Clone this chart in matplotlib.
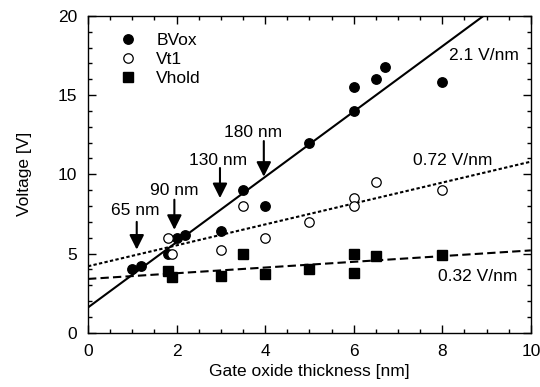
import matplotlib
matplotlib.use("Agg")
import matplotlib.pyplot as plt
import numpy as np
from matplotlib.ticker import MultipleLocator

plt.rcParams['font.family'] = ['Liberation Sans', 'DejaVu Sans']
FS = 12.5

# Data
bvox_x = [1.0, 1.2, 1.8, 2.0, 2.2, 3.0, 3.5, 4.0, 5.0, 6.0, 6.0, 6.5, 6.7, 8.0]
bvox_y = [4.0, 4.2, 5.0, 6.0, 6.2, 6.4, 9.0, 8.0, 12.0, 14.0, 15.5, 16.0, 16.8, 15.8]
vt1_x = [1.8, 1.9, 3.0, 3.5, 4.0, 5.0, 6.0, 6.0, 6.5, 8.0]
vt1_y = [6.0, 5.0, 5.2, 8.0, 6.0, 7.0, 8.5, 8.0, 9.5, 9.0]
vhold_x = [1.8, 1.9, 3.0, 3.5, 4.0, 5.0, 6.0, 6.0, 6.5, 8.0]
vhold_y = [3.9, 3.5, 3.6, 5.0, 3.7, 4.05, 5.0, 3.8, 4.87, 4.9]

# Fit lines (intercept, slope)
fit_intercepts = [1.6, 4.2, 3.4]
fit_slopes = [2.06, 0.66, 0.18]
fit_labels = ["2.1 V/nm", "0.72 V/nm", "0.32 V/nm"]
fit_label_pos = [(8.15, 17.5), (7.35, 10.9), (7.9, 3.55)]

# Node annotations
node_labels = ["65 nm", "90 nm", "130 nm", "180 nm"]
node_x = [1.1, 1.95, 2.98, 3.97]
node_tip_y = [5.25, 6.5, 8.5, 9.85]
node_tail_y = [7.0, 8.4, 10.4, 12.1]
node_text_xy = [(1.06, 7.7), (1.94, 8.95), (2.94, 10.85), (3.73, 12.65)]

fig = plt.figure(figsize=(5.4, 3.87), dpi=100)
ax = fig.add_axes([0.163, 0.140, 0.820, 0.819])

xs = np.array([0, 10])
styles = ['-', (0, (1.6, 1.1)), (0, (4, 2))]
for b, m, ls in zip(fit_intercepts, fit_slopes, styles):
    ax.plot(xs, b + m * xs, color='black', lw=1.5, linestyle=ls, zorder=2)

ax.plot(bvox_x, bvox_y, 'o', color='black', ms=6.8, label='BVox', zorder=3)
ax.plot(vt1_x, vt1_y, 'o', mfc='white', mec='black', mew=0.9, ms=6.8, label='Vt1', zorder=3)
ax.plot(vhold_x, vhold_y, 's', color='black', ms=6.5, label='Vhold', zorder=3)

for (tx, ty), lab in zip(fit_label_pos, fit_labels):
    ax.text(tx, ty, lab, fontsize=FS, ha='left', va='center')

for lab, x, ty, tl, (lx, ly) in zip(node_labels, node_x, node_tip_y, node_tail_y, node_text_xy):
    ax.annotate('', xy=(x, ty), xytext=(x, tl),
                arrowprops=dict(arrowstyle='-|>,head_length=0.4,head_width=0.2',
                                color='black', lw=1.5,
                                mutation_scale=22, shrinkA=0, shrinkB=0))
    ax.text(lx, ly, lab, fontsize=FS, ha='center', va='center')

ax.set_xlim(0, 10)
ax.set_ylim(0, 20)
ax.xaxis.set_major_locator(MultipleLocator(2))
ax.xaxis.set_minor_locator(MultipleLocator(0.5))
ax.yaxis.set_major_locator(MultipleLocator(5))
ax.yaxis.set_minor_locator(MultipleLocator(1))
ax.tick_params(which='both', direction='in', top=True, right=True, labelsize=FS, width=1)
ax.tick_params(which='major', length=6)
ax.tick_params(which='minor', length=3)
ax.tick_params(axis='y', which='major', pad=8)
ax.tick_params(axis='x', which='major', pad=8)
for s in ax.spines.values():
    s.set_linewidth(1)

ax.set_xlabel('Gate oxide thickness [nm]', fontsize=FS, labelpad=4)
ax.set_ylabel('Voltage [V]', fontsize=FS, labelpad=18)

ax.legend(loc='upper left', bbox_to_anchor=(0.07, 0.945), frameon=False,
          fontsize=FS, handlelength=1.0, handletextpad=1.15, labelspacing=0.2,
          borderaxespad=0, borderpad=0)

fig.savefig('out.png', dpi=100)
